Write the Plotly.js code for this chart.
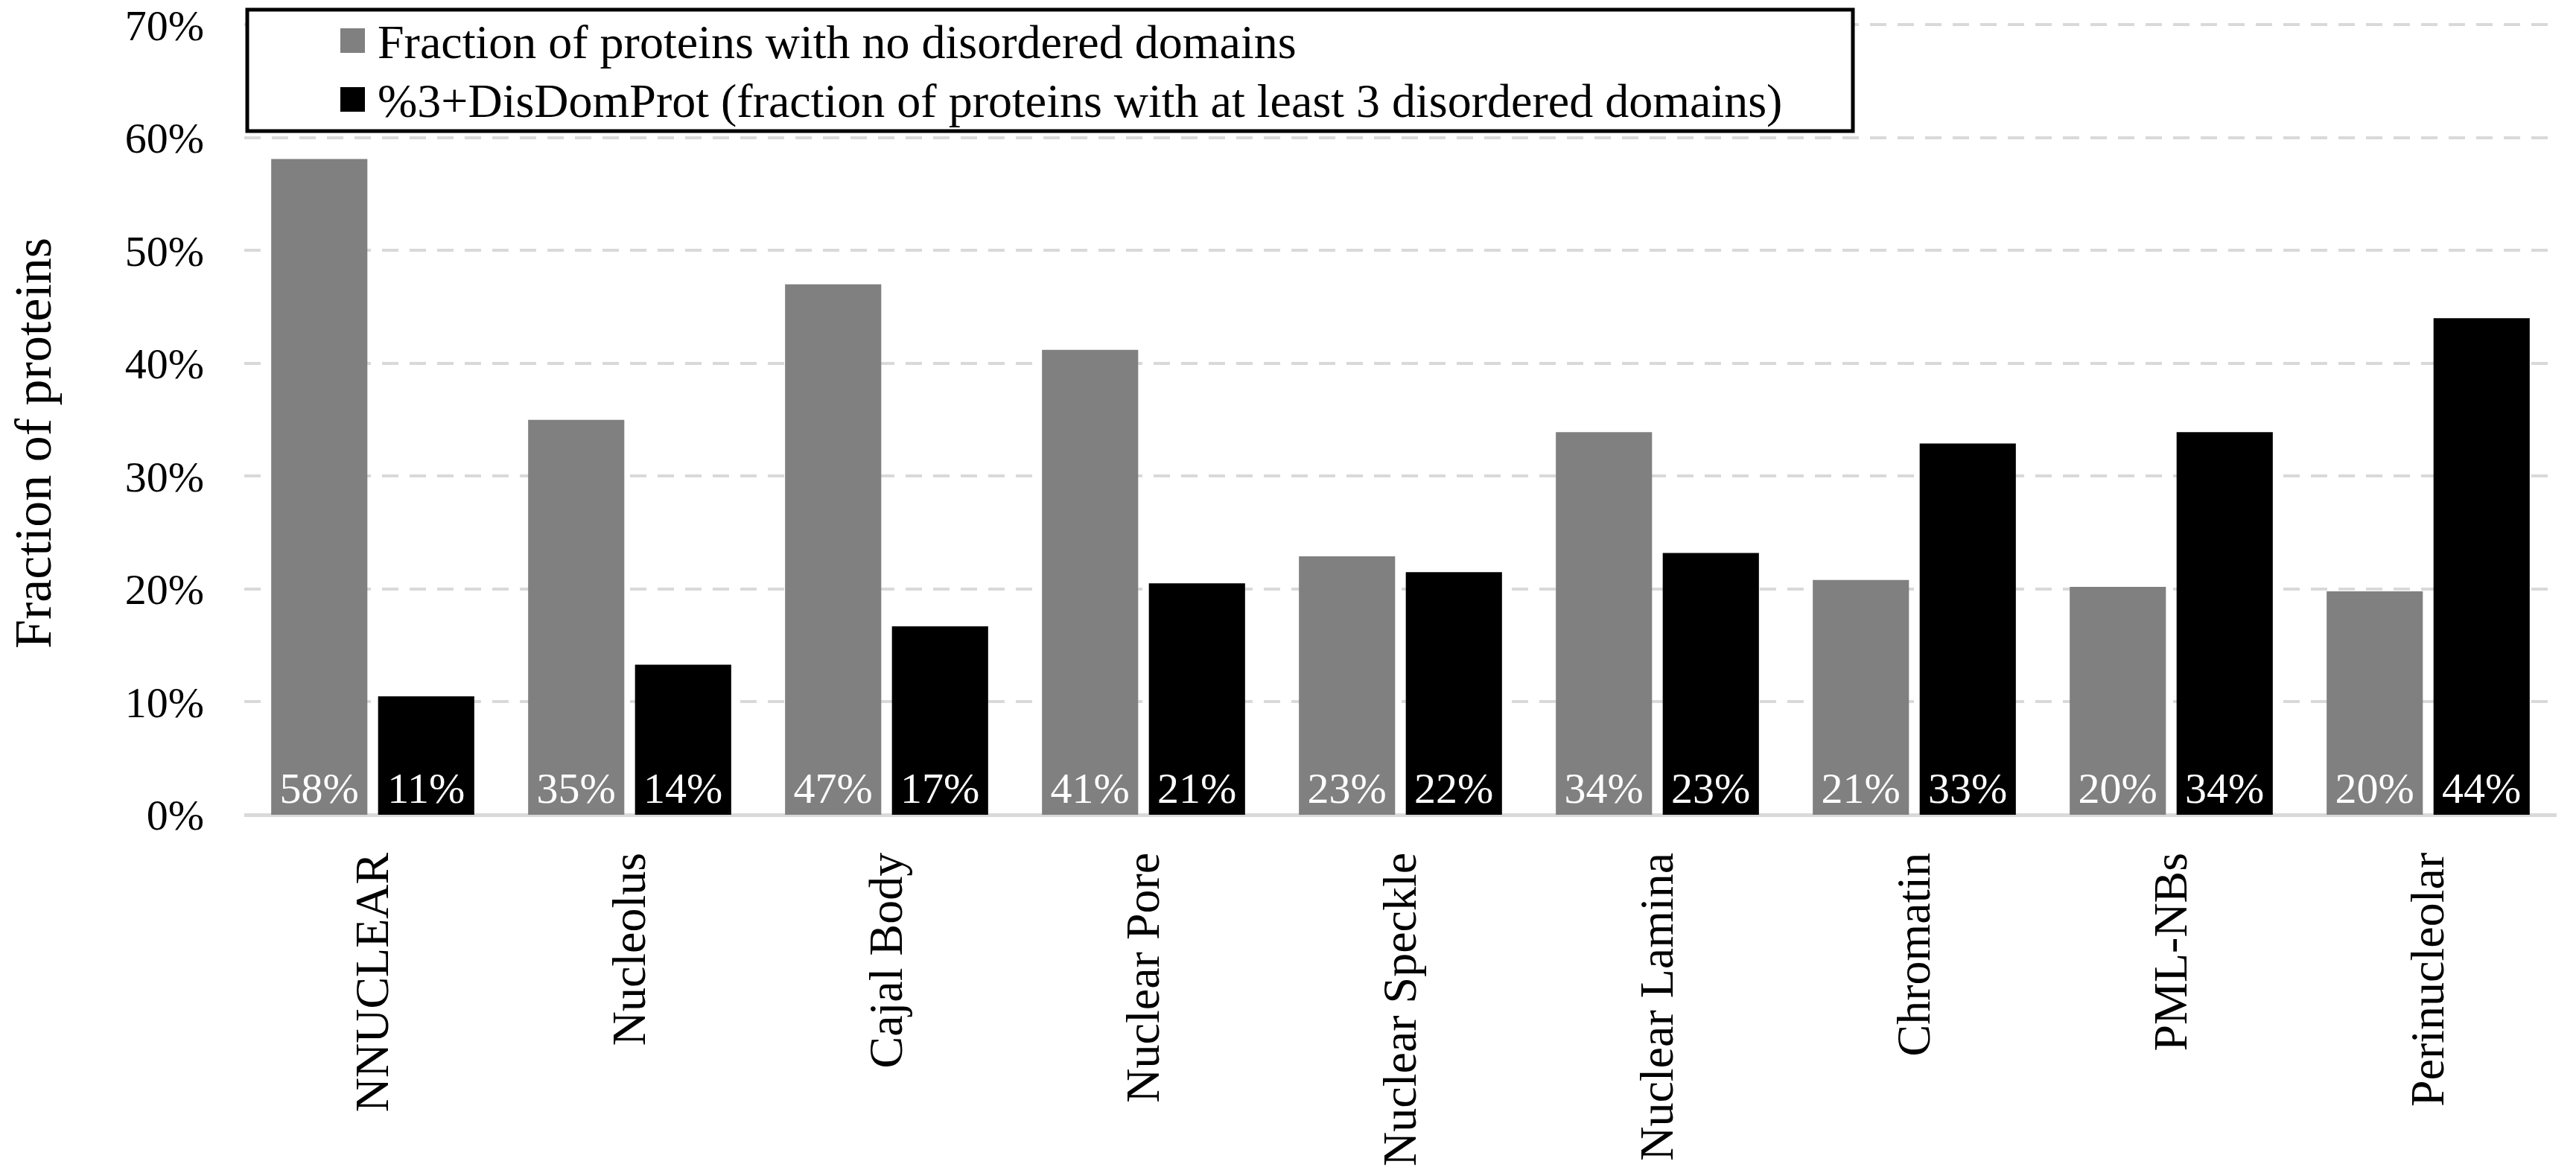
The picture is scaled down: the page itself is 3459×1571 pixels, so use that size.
<!DOCTYPE html>
<html>
<head>
<meta charset="utf-8">
<script src="https://cdn.plot.ly/plotly-3.0.1.min.js"></script>
<style>html,body{margin:0;padding:0;background:#fff;}#chart{width:3459px;height:1571px;}</style>
</head>
<body>
<div id="chart"></div>
<script>
const categories = ["NNUCLEAR", "Nucleolus", "Cajal Body", "Nuclear Pore", "Nuclear Speckle", "Nuclear Lamina", "Chromatin", "PML-NBs", "Perinucleolar"];
const noDisorder = [58.1, 35.0, 47.0, 41.2, 22.9, 33.9, 20.8, 20.2, 19.8];
const threePlus = [10.5, 13.3, 16.7, 20.5, 21.5, 23.2, 32.9, 33.9, 44.0];
const noDisorderLabels = ["58%", "35%", "47%", "41%", "23%", "34%", "21%", "20%", "20%"];
const threePlusLabels = ["11%", "14%", "17%", "21%", "22%", "23%", "33%", "34%", "44%"];
const tickVals = [0, 10, 20, 30, 40, 50, 60, 70];
const tickText = ["0%", "10%", "20%", "30%", "40%", "50%", "60%", "70%"];
const seriesNames = ["Fraction of proteins with no disordered domains", "%3+DisDomProt (fraction of proteins with at least 3 disordered domains)"];
const seriesColors = ["#808080", "#000000"];
const yTitle = "Fraction of proteins";

const FONT = "Liberation Serif, Times New Roman, serif";

// page geometry (pixels) used only for layout placement
const W = 3459, H = 1571;
const PL = 328, PR = 3433, PT = 31, PB = 1094;
const px2x = p => (p - PL) / (PR - PL);
const px2y = p => (PB - p) / (PB - PT);

const traces = [noDisorder, threePlus].map((vals, i) => ({
  type: "bar", name: seriesNames[i], x: categories, y: vals,
  marker: {color: seriesColors[i]},
  text: i === 0 ? noDisorderLabels : threePlusLabels,
  textposition: "inside", insidetextanchor: "start",
  textangle: 0, constraintext: "none",
  textfont: {family: FONT, size: 58, color: "#ffffff"},
  hoverinfo: "x+y", showlegend: false
}));

// manual legend (box, swatches, labels) to match the reference's compact box
const shapes = [{
  type: "rect", xref: "paper", yref: "paper", layer: "above",
  x0: px2x(332), x1: px2x(2488), y0: px2y(176), y1: px2y(13),
  line: {color: "#000000", width: 5}, fillcolor: "#ffffff"
}];
const rowSquareTop = [38, 117];
const rowTextMid = [56, 135];
const annotations = [];
seriesNames.forEach((name, i) => {
  shapes.push({
    type: "rect", xref: "paper", yref: "paper", layer: "above",
    x0: px2x(457), x1: px2x(490), y0: px2y(rowSquareTop[i] + 33), y1: px2y(rowSquareTop[i]),
    line: {width: 0}, fillcolor: seriesColors[i]
  });
  annotations.push({
    xref: "paper", yref: "paper", x: px2x(505), y: px2y(rowTextMid[i]),
    xanchor: "left", yanchor: "middle", showarrow: false, text: name,
    font: {family: FONT, size: 64, color: "#000000"}
  });
});
annotations.push({
  xref: "paper", yref: "paper", x: px2x(45), y: px2y(595),
  xanchor: "center", yanchor: "middle", textangle: -90, showarrow: false,
  text: yTitle, font: {family: FONT, size: 70, color: "#000000"}
});

const layout = {
  width: W, height: H,
  paper_bgcolor: "#ffffff", plot_bgcolor: "#ffffff",
  font: {family: FONT, color: "#000000", size: 60},
  margin: {l: PL, r: W - PR, t: PT, b: H - PB, pad: 0},
  barmode: "group", bargap: 0.168, bargroupgap: 0.10,
  showlegend: false,
  xaxis: {
    type: "category", tickangle: -90, showgrid: false, showline: false,
    ticks: "", tickfont: {family: FONT, size: 64, color: "#000000"},
    ticklabelstandoff: 37, zeroline: false, ticklabeloverflow: "allow"
  },
  yaxis: {
    range: [0, 70.15], tickvals: tickVals, ticktext: tickText,
    showgrid: true, gridcolor: "#d9d9d9", gridwidth: 4, griddash: "22px,15px",
    zeroline: true, zerolinecolor: "#d9d9d9", zerolinewidth: 5,
    showline: false, ticks: "",
    tickfont: {family: FONT, size: 58, color: "#000000"},
    ticklabelstandoff: 53, ticklabeloverflow: "allow"
  },
  shapes: shapes,
  annotations: annotations
};

Plotly.newPlot("chart", traces, layout, {displayModeBar: false, staticPlot: true});
</script>
</body>
</html>
